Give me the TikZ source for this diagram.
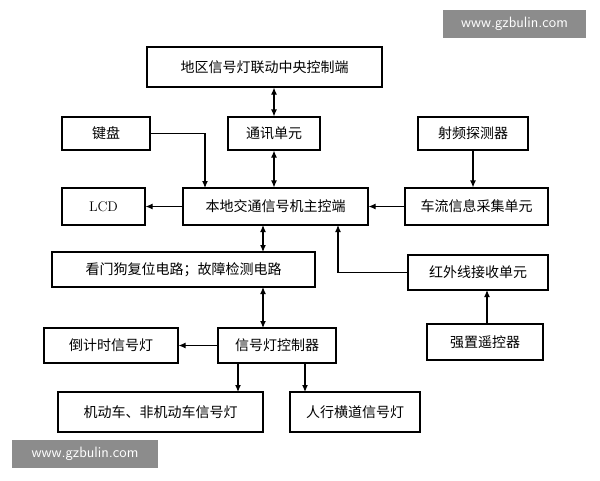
\documentclass[tikz,border=0pt]{standalone}
\usepackage{fontspec}
\newfontfamily\cjk{Noto Sans CJK SC}
\usetikzlibrary{arrows.meta}
\begin{document}
\begin{tikzpicture}[x=1pt,y=-1pt,
 bx/.style={draw,line width=1.1pt,fill=white,inner sep=0pt,font=\cjk\fontsize{14}{16}\selectfont},
 ar/.style={-{Latex[length=7pt,width=6pt]},line width=1.1pt},
 dar/.style={{Latex[length=7pt,width=6pt]}-{Latex[length=7pt,width=6pt]},line width=1.1pt},
 wm/.style={fill=black!45,text=white,inner sep=0pt,font=\fontsize{15}{17}\sffamily}]
\useasboundingbox (0,0) rectangle (600,480);
\newcommand\bxat[4]{\node[bx,minimum width=#3-#1,minimum height=#4-#2] at ({(#1+#3)/2},{(#2+#4)/2})}
\bxat{147}{47}{382}{87} (top) {地区信号灯联动中央控制端};
\bxat{228}{117}{320}{150} (tx) {通讯单元};
\bxat{62}{117}{150}{150} (kb) {键盘};
\bxat{418}{117}{528}{150} (rf) {射频探测器};
\bxat{62}{188}{145}{225} (lcd) {\rmfamily LCD};
\bxat{183}{188}{368}{225} (main) {本地交通信号机主控端};
\bxat{405}{188}{548}{225} (cl) {车流信息采集单元};
\bxat{52}{252}{315}{287} (wd) {看门狗复位电路；故障检测电路};
\bxat{408}{255}{548}{290} (ir) {红外线接收单元};
\bxat{44}{328}{178}{363} (cd) {倒计时信号灯};
\bxat{218}{328}{336}{363} (ctl) {信号灯控制器};
\bxat{427}{324}{543}{360} (rc) {强置遥控器};
\bxat{58}{392}{263}{432} (veh) {机动车、非机动车信号灯};
\bxat{290}{392}{420}{432} (ped) {人行横道信号灯};
\node[wm,minimum width=143,minimum height=28] (w1) at (514.5,24) {www.gzbulin.com};
\node[wm,minimum width=146,minimum height=28] (w2) at (85,454) {www.gzbulin.com};
\draw[dar] (top.south -| tx) -- (tx.north);
\draw[dar] (tx.south) -- (tx.south |- main.north);
\draw[ar] (kb.east) -| (205,188);
\draw[ar] (rf.south) -- (rf.south |- cl.north);
\draw[ar] (cl.west) -- (main.east |- cl.west);
\draw[ar] (main.west) -- (lcd.east |- main.west);
\draw[dar] (263,225) -- (263,252);
\draw[ar] (ir.west) -| (338,225);
\draw[ar] (rc.north -| 487,324) -- (487,290);
\draw[dar] (263,287) -- (263,328);
\draw[ar] (ctl.west) -- (cd.east |- ctl.west);
\draw[ar] (238,363) -- (238,392);
\draw[ar] (305,363) -- (305,392);
\end{tikzpicture}
\end{document}
